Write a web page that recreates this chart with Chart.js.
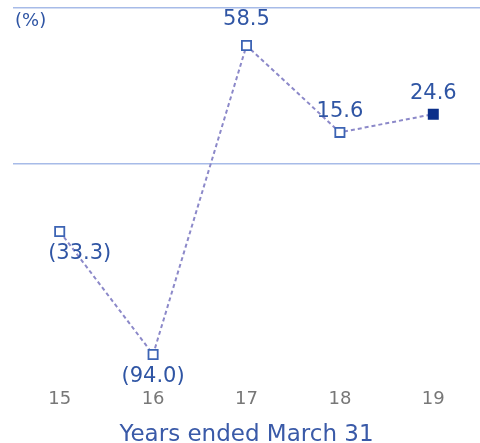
<!DOCTYPE html>
<html>
<head>
<meta charset="utf-8">
<script src="https://cdn.jsdelivr.net/npm/chart.js@4"></script>
<style>
  html, body { margin: 0; padding: 0; background: #fff; overflow: hidden; }
  #wrap { position: relative; width: 480px; height: 443px; }
  canvas { display: block; }
  #unit { position: absolute; left: 15px; top: 9px; font: 18px "DejaVu Sans", sans-serif; color: #2f55a4; }
</style>
</head>
<body>
<div id="wrap">
  <canvas id="chart" width="480" height="443"></canvas>
  <div id="unit">(%)</div>
</div>
<script>
const years = ['15', '16', '17', '18', '19'];
const growth = [-33.3, -94.0, 58.5, 15.6, 24.6];
const labelText = ['(33.3)', '(94.0)', '58.5', '15.6', '24.6'];
const yMin = -107;
const yMax = 77;

const pointLabels = {
    id: 'pointLabels',
    afterDatasetsDraw(chart) {
        const ctx = chart.ctx;
        const meta = chart.getDatasetMeta(0);
        ctx.save();
        ctx.font = '21px "DejaVu Sans", sans-serif';
        ctx.fillStyle = '#2f55a4';
        ctx.textAlign = 'center';
        ctx.textBaseline = 'middle';
        meta.data.forEach((pt, i) => {
            let x = pt.x;
            let y = growth[i] < 0 ? pt.y + 22 : pt.y - 21;
            if (i === 0) x += 20;
            if (i === 2) y -= 5;
            ctx.fillText(labelText[i], x, y);
        });
        ctx.restore();
    }
};

new Chart(document.getElementById('chart'), {
    type: 'line',
    data: {
        labels: years,
        datasets: [{
            data: growth,
            borderColor: '#8c89c9',
            borderWidth: 2,
            borderDash: [4, 3],
            fill: false,
            tension: 0,
            pointStyle: 'rect',
            pointRadius: 6.5,
            pointBorderWidth: 1.8,
            pointBorderColor: ['#3d64b4', '#3d64b4', '#3d64b4', '#3d64b4', '#0b2f8a'],
            pointBackgroundColor: ['#fff', '#fff', '#fff', '#fff', '#0b2f8a']
        }]
    },
    options: {
        responsive: false,
        animation: false,
        layout: { autoPadding: false, padding: { left: 13, right: 0, top: 8, bottom: 0 } },
        plugins: {
            legend: { display: false },
            tooltip: { enabled: false }
        },
        scales: {
            x: {
                offset: true,
                grid: { display: false },
                border: { display: false },
                ticks: {
                    color: '#777',
                    font: { family: 'DejaVu Sans', size: 18 },
                    padding: 0
                },
                title: {
                    display: true,
                    text: 'Years ended March 31',
                    color: '#3a5aa8',
                    font: { family: 'DejaVu Sans', size: 23 },
                    padding: { top: 11, bottom: -6 }
                }
            },
            y: {
                min: yMin,
                max: yMax,
                afterBuildTicks: axis => {
                    axis.ticks = [{ value: yMin }, { value: 0 }, { value: yMax }];
                },
                ticks: { display: false },
                border: { display: false },
                grid: {
                    drawTicks: false,
                    lineWidth: 1.5,
                    color: c => (c.tick && c.tick.value === yMin) ? 'rgba(0,0,0,0)' : '#a7bbe8'
                }
            }
        }
    },
    plugins: [pointLabels]
});
</script>
</body>
</html>
